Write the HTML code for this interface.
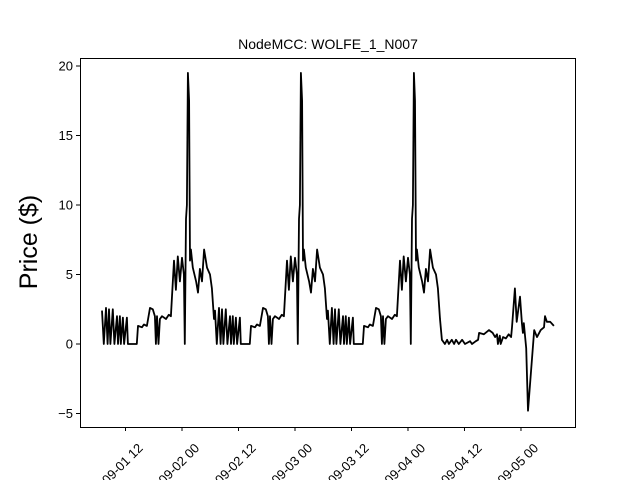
<!DOCTYPE html>
<html><head><meta charset="utf-8"><style>
body{margin:0;background:#fff;}
svg{display:block;font-family:"Liberation Sans","DejaVu Sans",sans-serif;}
</style></head><body>
<svg id="chart" width="640" height="480">
<rect width="640" height="480" fill="#fff"/>
<text x="328" y="49" font-size="14" text-anchor="middle">NodeMCC: WOLFE_1_N007</text>
<text transform="translate(37,242) rotate(-90)" font-size="25" text-anchor="middle">Price ($)</text>
<g id="axes"></g>
<path id="line" fill="none" stroke="#000" stroke-width="1.8" stroke-linejoin="round"/>
<rect x="80.5" y="58.5" width="495" height="369" fill="none" stroke="#000" stroke-width="1"/>
</svg>
<script>
const hours = [7,7.4,7.85,8.2,8.5,8.8,9.3,9.65,10.2,10.4,10.8,11.0,11.45,11.7,12.3,12.5,14.4,14.65,15.5,15.9,16.55,17.2,17.8,18.25,18.45,18.7,19.0,19.3,19.75,20.6,21.2,21.65,22.3,22.7,23.1,23.55,24.0,24.4,24.6,24.85,25.05,25.25,25.5,25.7,25.9,26.3,27.0,27.4,27.8,28.25,28.7,29.3,29.95,30.35,30.8,
31,31.4,31.85,32.2,32.5,32.8,33.3,33.65,34.2,34.4,34.8,35.0,35.45,35.7,36.3,36.5,38.4,38.65,39.5,39.9,40.55,41.2,41.8,42.25,42.45,42.7,43.0,43.3,43.75,44.6,45.2,45.65,46.3,46.7,47.1,47.55,48.0,48.4,48.6,48.85,49.05,49.25,49.5,49.7,49.9,50.3,51.0,51.4,51.8,52.25,52.7,53.3,53.95,54.35,54.8,
55,55.4,55.85,56.2,56.5,56.8,57.3,57.65,58.2,58.4,58.8,59.0,59.45,59.7,60.3,60.5,62.4,62.65,63.5,63.9,64.55,65.2,65.8,66.25,66.45,66.7,67.0,67.3,67.75,68.6,69.2,69.65,70.3,70.7,71.1,71.55,72.0,72.4,72.6,72.85,73.05,73.25,73.5,73.7,73.9,74.3,75.0,75.4,75.8,76.25,76.7,77.3,77.95,78.35,78.8,
79.2,79.85,80.3,80.7,81.3,81.8,82.2,82.8,83.5,84.1,85.2,85.6,86.4,86.9,87.1,88.1,89.2,90.0,90.5,90.9,91.1,91.5,91.7,92.2,92.8,93.4,93.9,94.1,94.7,95.1,95.8,96.2,96.4,96.6,97.1,97.5,98.8,99.4,100.2,100.9,101.1,101.5,102.2,103.0];
const prices = [2.4,0,2.6,0,2.5,0,2.5,0,2.0,0,2.0,0,1.9,0,1.9,0,0,1.3,1.2,1.4,1.3,2.6,2.5,2.0,0,2.0,0,1.8,2.0,1.8,2.1,2.0,6.0,3.9,6.3,4.5,6.2,5.0,0,9.0,10.0,19.5,17.5,6.0,6.8,5.5,4.5,3.7,5.4,4.5,6.8,5.5,5.0,4.0,1.8,
2.4,0,2.6,0,2.5,0,2.5,0,2.0,0,2.0,0,1.9,0,1.9,0,0,1.3,1.2,1.4,1.3,2.6,2.5,2.0,0,2.0,0,1.8,2.0,1.8,2.1,2.0,6.0,3.9,6.3,4.5,6.2,5.0,0,9.0,10.0,19.5,17.5,6.0,6.8,5.5,4.5,3.7,5.4,4.5,6.8,5.5,5.0,4.0,1.8,
2.4,0,2.6,0,2.5,0,2.5,0,2.0,0,2.0,0,1.9,0,1.9,0,0,1.3,1.2,1.4,1.3,2.6,2.5,2.0,0,2.0,0,1.8,2.0,1.8,2.1,2.0,6.0,3.9,6.3,4.5,6.2,5.0,0,9.0,10.0,19.5,17.5,6.0,6.8,5.5,4.5,3.7,5.4,4.5,6.8,5.5,5.0,4.0,1.8,
0.3,0,0.3,0,0.3,0,0.3,0,0.3,0,0.2,0,0.2,0.3,0.8,0.7,1.0,0.8,0.5,0.7,0,0.6,0,0.5,0.4,0.7,0.5,1.2,4.0,1.6,3.4,1.5,0.8,1.5,-0.3,-4.8,1.0,0.5,1.0,1.2,2.0,1.6,1.6,1.3];
const xTickHours = [12,24,36,48,60,72,84,96];
const xTickLabels = ["09-01 12","09-02 00","09-02 12","09-03 00","09-03 12","09-04 00","09-04 12","09-05 00"];
const yTicks = [-5,0,5,10,15,20];

function xs(h){ return 182 + (h - 24) * 4.708; }
function ys(v){ return 344 - v * 13.9; }

const NS = "http://www.w3.org/2000/svg";
const axes = document.getElementById('axes');
yTicks.forEach(function(t){
  const y = ys(t);
  const l = document.createElementNS(NS,'line');
  l.setAttribute('x1',76); l.setAttribute('x2',80); l.setAttribute('y1',y); l.setAttribute('y2',y);
  l.setAttribute('stroke','#000');
  
  
  axes.appendChild(l);
  const tx = document.createElementNS(NS,'text');
  tx.setAttribute('x',73); tx.setAttribute('y',y+4.5);
  tx.setAttribute('font-size','13'); tx.setAttribute('text-anchor','end');
  tx.textContent = String(t).replace('-','\u2212');
  
  
  axes.appendChild(tx);
});
xTickHours.forEach(function(h,i){
  const x = xs(h);
  const l = document.createElementNS(NS,'line');
  l.setAttribute('x1',x); l.setAttribute('x2',x); l.setAttribute('y1',427); l.setAttribute('y2',431);
  l.setAttribute('stroke','#000');
  
  
  axes.appendChild(l);
  const tx = document.createElementNS(NS,'text');
  tx.setAttribute('transform','translate('+x+',467) rotate(-45)');
  tx.setAttribute('font-size','13'); tx.setAttribute('text-anchor','middle');
  tx.textContent = xTickLabels[i];
  
  
  axes.appendChild(tx);
});
let d = '';
hours.forEach(function(h,i){ d += (i ? 'L' : 'M') + xs(h).toFixed(1) + ' ' + ys(prices[i]).toFixed(1); });
document.getElementById('line').setAttribute('d', d);
</script>
</body></html>
